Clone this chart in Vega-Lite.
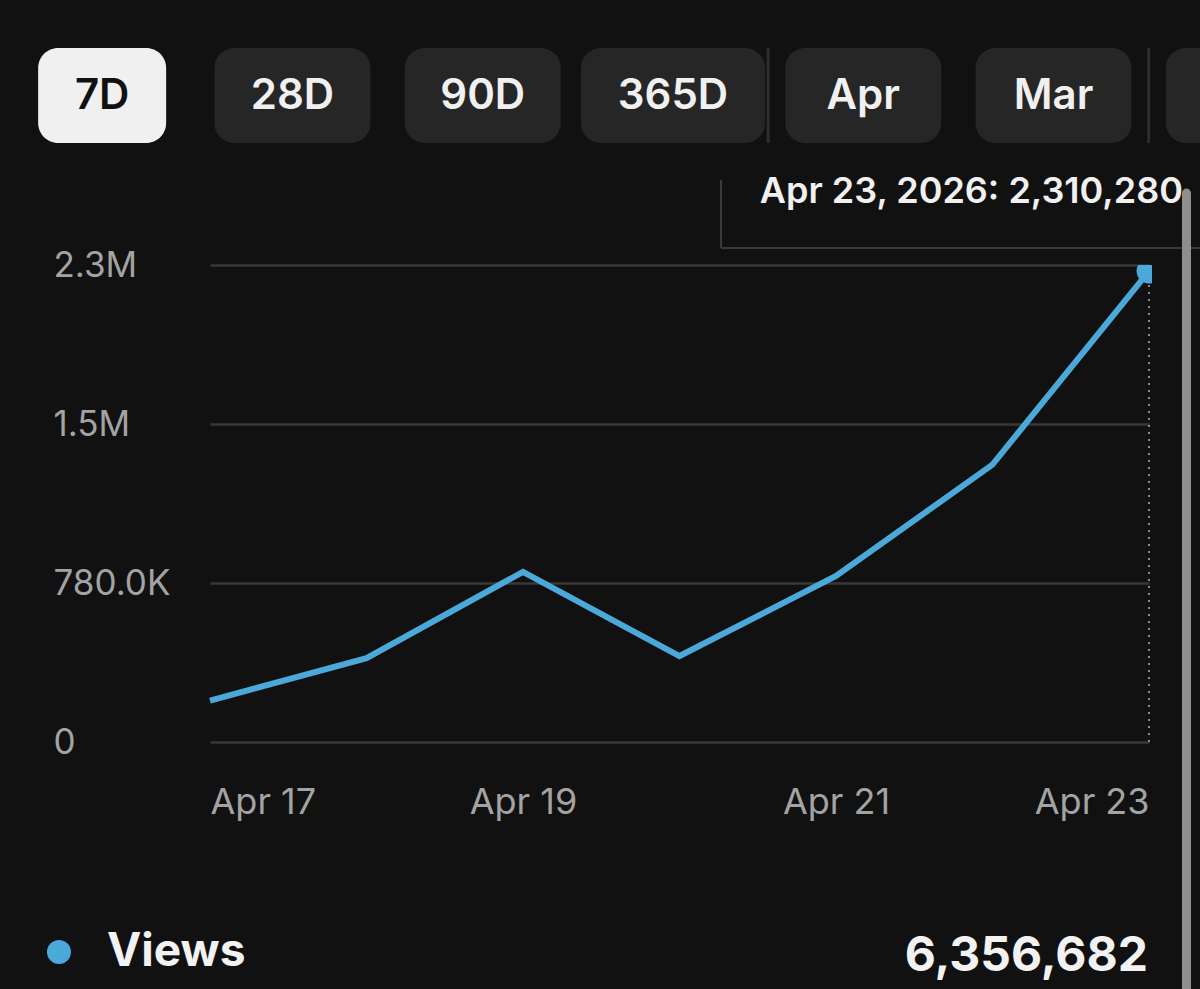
{
  "$schema": "https://vega.github.io/schema/vega-lite/v6.json",
  "width": 942,
  "height": 477,
  "autosize": {"type": "none"},
  "padding": {"left": 210, "top": 265, "right": 48, "bottom": 247},
  "background": "#111111",
  "config": {"font": "Inter", "view": {"stroke": null}},
  "datasets": {
    "views": [
      {"date": "2026-04-17", "views": 203350},
      {"date": "2026-04-18", "views": 411700},
      {"date": "2026-04-19", "views": 834600},
      {"date": "2026-04-20", "views": 421800},
      {"date": "2026-04-21", "views": 814300},
      {"date": "2026-04-22", "views": 1360652},
      {"date": "2026-04-23", "views": 2310280}
    ],
    "buttons": [
      {"label": "7D"}, {"label": "28D"}, {"label": "90D"}, {"label": "365D"},
      {"label": "Apr"}, {"label": "Mar"}, {"label": "Feb"}
    ],
    "separators": [{"label": "Apr"}, {"label": "Feb"}]
  },
  "layer": [
    {
      "data": {"name": "views"},
      "encoding": {
        "x": {
          "field": "date", "type": "temporal",
          "scale": {"type": "utc", "range": [0, 939]},
          "axis": {
            "title": null, "domain": false, "ticks": false, "tickSize": 0, "grid": false,
            "values": [
              {"year": 2026, "month": 4, "date": 17, "utc": true},
              {"year": 2026, "month": 4, "date": 19, "utc": true},
              {"year": 2026, "month": 4, "date": 21, "utc": true},
              {"year": 2026, "month": 4, "date": 23, "utc": true}
            ],
            "format": "%b %d", "labelFlush": true, "labelOverlap": false,
            "labelPadding": 71, "labelBaseline": "alphabetic",
            "labelFontSize": 36, "labelColor": "#a3a3a3", "labelFont": "Inter"
          }
        },
        "y": {
          "field": "views", "type": "quantitative",
          "scale": {"domain": [0, 2340000], "nice": false},
          "axis": {
            "title": null, "domain": false, "ticks": false, "tickSize": 0,
            "values": [0, 780000, 1560000, 2340000],
            "labelExpr": "datum.value == 0 ? '0' : datum.value < 1000000 ? format(datum.value/1000, '.1f') + 'K' : format(floor(datum.value/100000)/10, '.1f') + 'M'",
            "labelAlign": "left", "labelPadding": 157, "labelBaseline": "middle",
            "labelFontSize": 35, "labelColor": "#a3a3a3", "labelFont": "Inter",
            "grid": true, "gridColor": "#383838", "gridWidth": 2.5
          }
        }
      },
      "layer": [
        {"mark": {"type": "line", "color": "#4ba9d9", "strokeWidth": 6}},
        {
          "transform": [
            {"joinaggregate": [{"op": "sum", "field": "views", "as": "total"}, {"op": "max", "field": "views", "as": "maxv"}]},
            {"filter": "datum.views === datum.maxv"},
            {"calculate": "utcFormat(toDate(datum.date), '%b %d, %Y') + ': ' + format(datum.views, ',')", "as": "tip"}
          ],
          "layer": [
            {
              "mark": {"type": "rule", "color": "#8a8a8a", "strokeWidth": 2, "strokeDash": [2, 5]},
              "encoding": {"y": {"datum": 0}, "y2": {"datum": 2340000}}
            },
            {
              "mark": {"type": "circle", "size": 620, "opacity": 1, "clip": true},
              "encoding": {
                "color": {
                  "datum": "Views", "type": "nominal",
                  "scale": {"range": ["#4ba9d9"]},
                  "legend": {
                    "orient": "none", "legendX": -174, "legendY": 664, "title": null,
                    "symbolType": "circle", "symbolSize": 576, "symbolStrokeWidth": 0,
                    "labelFontSize": 46, "labelFontWeight": "bold", "labelColor": "#f2f2f2",
                    "labelFont": "Inter", "labelOffset": 25, "padding": 0
                  }
                }
              }
            },
            {
              "mark": {"type": "rule", "color": "#3a3a3a", "strokeWidth": 2, "xOffset": -428, "yOffset": -91, "y2Offset": -23},
              "encoding": {"y2": {"field": "views"}}
            },
            {
              "mark": {"type": "rule", "color": "#3a3a3a", "strokeWidth": 2, "xOffset": -428, "x2Offset": 80, "yOffset": -23},
              "encoding": {"x2": {"field": "date"}}
            },
            {
              "mark": {"type": "text", "align": "right", "baseline": "alphabetic", "dx": 34, "dy": -68, "fontSize": 36, "fontWeight": 600, "color": "#f0f0f0", "font": "Inter"},
              "encoding": {"text": {"field": "tip"}}
            },
            {
              "mark": {"type": "rule", "color": "#8e8e8e", "strokeWidth": 9, "strokeCap": "round", "xOffset": 37.5, "yOffset": -78, "y2Offset": 262},
              "encoding": {"y2": {"datum": 0}}
            },
            {
              "mark": {"type": "text", "align": "right", "baseline": "alphabetic", "dx": -1, "fontSize": 48, "fontWeight": "bold", "color": "#f2f2f2", "font": "Inter", "yOffset": 229},
              "encoding": {"y": {"datum": 0}, "text": {"field": "total", "type": "quantitative", "format": ","}}
            }
          ]
        }
      ]
    },
    {
      "data": {"name": "buttons"},
      "encoding": {
        "x": {
          "field": "label", "type": "nominal", "sort": null,
          "scale": {"type": "band", "domain": ["7D", "28D", "90D", "365D", "Apr", "Mar", "Feb"], "range": [-203, 1129], "paddingInner": 0, "paddingOuter": 0},
          "axis": null
        }
      },
      "layer": [
        {
          "transform": [{"calculate": "length(datum.label)", "as": "chars"}],
          "mark": {"type": "bar", "cornerRadius": 20},
          "encoding": {
            "y": {"datum": 0, "type": "quantitative", "scale": {"domain": [0, 1], "range": [-217, -122]}, "axis": null},
            "y2": {"datum": 1},
            "size": {"field": "chars", "type": "quantitative", "scale": {"domain": [2, 4], "range": [128, 184]}, "legend": null},
            "color": {"condition": {"test": "datum.label === '7D'", "value": "#f0f0f0"}, "value": "#262626"}
          }
        },
        {
          "transform": [{"filter": "datum.label !== 'Feb'"}],
          "mark": {"type": "text", "fontSize": 42, "fontWeight": 600, "baseline": "middle", "font": "Inter"},
          "encoding": {
            "y": {"datum": 0.5, "type": "quantitative"},
            "text": {"field": "label"},
            "color": {"condition": {"test": "datum.label === '7D'", "value": "#111111"}, "value": "#f0f0f0"}
          }
        },
        {
          "data": {"name": "separators"},
          "mark": {"type": "rule", "color": "#2e2e2e", "strokeWidth": 3},
          "encoding": {
            "x": {"field": "label", "type": "nominal", "bandPosition": 0},
            "y": {"datum": 0, "type": "quantitative"},
            "y2": {"datum": 1}
          }
        }
      ]
    }
  ],
  "resolve": {"scale": {"x": "independent", "y": "independent"}}
}
